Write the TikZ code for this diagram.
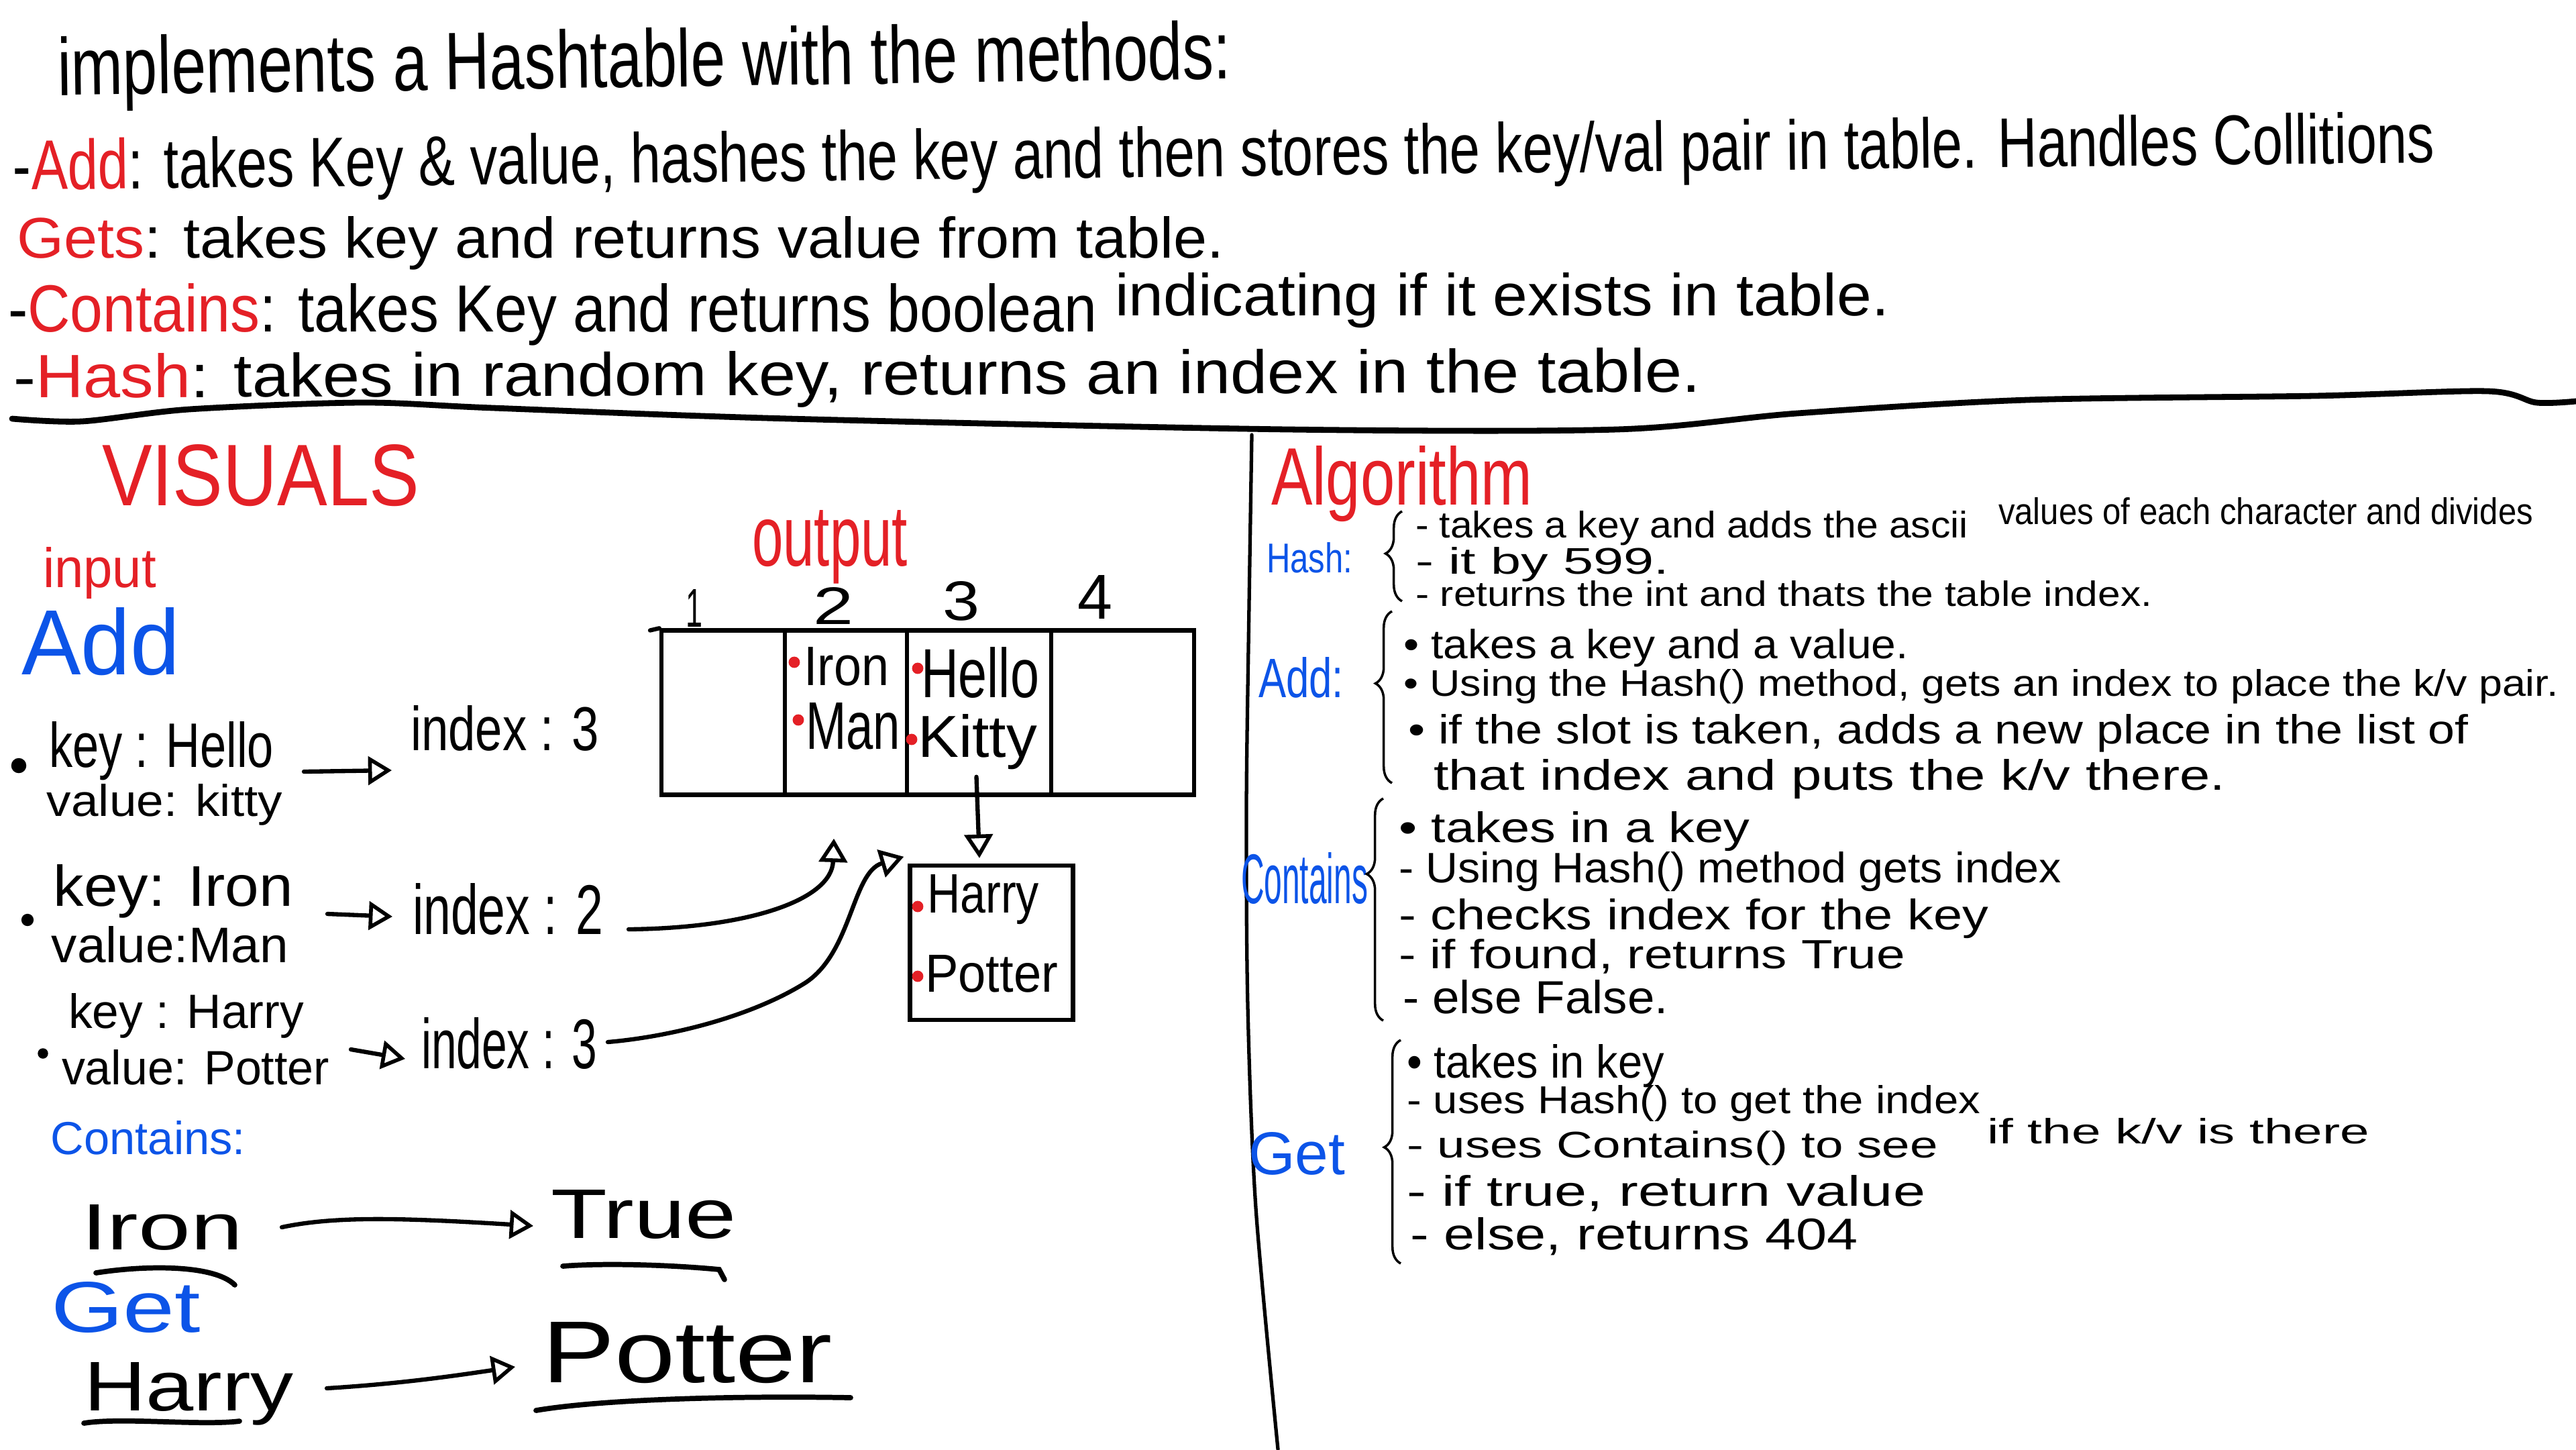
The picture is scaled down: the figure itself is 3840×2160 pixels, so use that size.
\documentclass[tikz,border=0pt]{standalone}
\usepackage{fontspec}
\setmainfont{Liberation Sans}
\usepackage{graphicx}
\usetikzlibrary{arrows.meta,calc,decorations.pathreplacing}
\definecolor{hred}{RGB}{228,32,38}
\definecolor{hblue}{RGB}{12,84,232}
\newlength\pxu
\setlength\pxu{0.01cm}
\newcommand\tx[3]{\resizebox{#1\pxu}{#2\pxu}{#3}}
\begin{document}
\begin{tikzpicture}[x=0.01cm,y=-0.01cm,
  tn/.style={inner sep=0pt,outer sep=0pt,anchor=base west},
  conn/.style={line width=1.8pt,line cap=round,-{Triangle[open,length=10pt,width=12pt,line width=1.6pt]}},
  cellbox/.style={draw,line width=1.8pt,inner sep=0pt,minimum height=2.45cm},
  uline/.style={line width=2.2pt,line cap=round},
  bracestyle/.style={line width=1pt,decorate}]
\useasboundingbox (0,0) rectangle (3840,2160);
\fill[white] (0,0) rectangle (3840,2160);

% ---------------- header ----------------
\node[tn,rotate=0.8] (h0) at (86,142) {\tx{1750}{88}{implements a Hashtable with the methods:}};
\node[tn,rotate=0.65] (h1) at (20,283) {\tx{3610}{76}{-\textcolor{hred}{Add}: takes Key \& value, hashes the key and then stores the key/val pair in table. Handles Collitions}};
\node[tn] (h2) at (25,384) {\tx{1800}{62}{\textcolor{hred}{Gets}: takes key and returns value from table.}};
\node[tn] (h3a) at (12,494) {\tx{1623}{72}{-\textcolor{hred}{Contains}: takes Key and returns boolean}};
\node[tn] (h3b) at (1662,470) {\tx{1154}{64}{indicating if it exists in table.}};
\node[tn,rotate=0.2] (h4) at (20,593) {\tx{2515}{66}{-\textcolor{hred}{Hash}: takes in random key, returns an index in the table.}};

\draw[line width=2.5pt,line cap=round] plot[smooth] coordinates {(18,624) (122,628) (282,610) (539,600) (735,608) (1176,624) (1920,640) (2410,640) (2679,616) (3022,596) (3450,590) (3708,583) (3781,600) (3840,598)};
\draw[line width=1.5pt,line cap=round] plot[smooth] coordinates {(1866,648) (1862,900) (1858,1200) (1860,1500) (1872,1800) (1905,2160)};

% ---------------- visuals ----------------
\node[tn] (vis) at (152,753) {\tx{473}{91}{\color{hred}VISUALS}};
\node[tn] (inp) at (64,875) {\tx{169}{60}{\color{hred}input}};
\node[tn] (addb) at (32,1005) {\tx{236}{100}{\color{hblue}Add}};

\fill (28,1141) circle (3.2pt);
\fill (41,1371) circle (2.6pt);
\fill (64,1570) circle (2.2pt);
\node[tn] (k1) at (73,1143) {\tx{335}{68}{key : Hello}};
\node[tn] (v1) at (70,1216) {\tx{351}{48}{value: kitty}};
\node[tn] (i1) at (612,1118) {\tx{281}{67}{index : 3}};
\node[tn] (k2) at (80,1350) {\tx{357}{62}{key: Iron}};
\node[tn] (v2) at (77,1434) {\tx{353}{54}{value:Man}};
\node[tn] (i2) at (615,1392) {\tx{284}{76}{index : 2}};
\node[tn] (k3) at (102,1532) {\tx{351}{52}{key : Harry}};
\node[tn] (v3) at (92,1616) {\tx{399}{52}{value: Potter}};
\node[tn] (i3) at (628,1592) {\tx{262}{76}{index : 3}};

\draw[conn] ($(k1.base east)+(45,7)$) -- ($(i1.base west)+(-28,30)$);
\draw[conn] ($(k2.base east)+(51,12)$) -- ($(i2.base west)+(-30,-26)$);
\draw[conn] ($(k3.base east)+(70,32)$) -- ($(i3.base west)+(-24,-14)$);

% table
\node[tn] (out) at (1121,843) {\tx{232}{83}{\color{hred}output}};
\node[cellbox,minimum width=1.84cm] (cell1) at (1078,1062) {};
\node[cellbox,minimum width=1.82cm] (cell2) at (1261,1062) {};
\node[cellbox,minimum width=2.15cm] (cell3) at (1459.5,1062) {};
\node[cellbox,minimum width=2.13cm] (cell4) at (1673.5,1062) {};
\draw[line width=1.8pt,line cap=round] (969,939.5) -- (cell1.north west);
\node[tn] (n1) at (1022,934) {\tx{25}{56}{1}};
\node[tn] (n2) at (1212,930) {\tx{60}{55}{2}};
\node[tn] (n3) at (1405,924) {\tx{55}{58}{3}};
\node[tn] (n4) at (1606,922) {\tx{52}{65}{4}};

\node[tn] (tIron) at (1198,1021) {\tx{127}{57}{Iron}};
\node[tn] (tMan) at (1201,1116) {\tx{141}{69}{Man}};
\node[tn] (tHello) at (1373,1039) {\tx{176}{75}{Hello}};
\node[tn] (tKitty) at (1368,1128) {\tx{178}{64}{Kitty}};
\fill[hred] (1184,987) circle (2.4pt);
\fill[hred] (1190,1073) circle (2.4pt);
\fill[hred] (1368,996) circle (2.4pt);
\fill[hred] (1359,1102) circle (2.4pt);

\node[cellbox,minimum width=2.43cm,minimum height=2.30cm] (hp) at (1478,1405) {};
\node[tn] (tHarry) at (1382,1360) {\tx{167}{57}{Harry}};
\node[tn] (tPotter) at (1379,1478) {\tx{198}{55}{Potter}};
\fill[hred] (1368,1351) circle (2.4pt);
\fill[hred] (1368,1455) circle (2.4pt);

\draw[conn] ($(cell3.south)+(-4,-30)$) -- ($(hp.north)+(-18,-8)$);
\draw[conn] ($(i2.base east)+(38,-7)$) .. controls (1120,1383) and (1240,1340) .. ($(cell2.south)+(-18,62)$);
\draw[conn] ($(i3.base east)+(16,-39)$) .. controls (1000,1545) and (1120,1515) .. (1200,1465) .. controls (1270,1420) and (1270,1300) .. ($(hp.north west)+(-6,-10)$);

% contains / get
\node[tn] (cont) at (76,1720) {\tx{290}{50}{\color{hblue}Contains:}};
\node[tn] (cIron) at (121,1862) {\tx{241}{67}{Iron}};
\node[tn] (cTrue) at (821,1845) {\tx{277}{72}{True}};
\node[tn] (getb) at (76,1985) {\tx{223}{75}{\color{hblue}Get}};
\node[tn] (cHarry) at (125,2102) {\tx{313}{72}{Harry}};
\node[tn] (cPotter) at (808,2060) {\tx{433}{90}{Potter}};
\draw[conn] ($(cIron.base east)+(58,-33)$) .. controls (500,1812) and (600,1815) .. ($(cTrue.base west)+(-26,-18)$);
\draw[conn] ($(cHarry.base east)+(49,-33)$) .. controls (600,2062) and (680,2050) .. ($(cPotter.base west)+(-40,-23)$);
\draw[uline] (143,1897) .. controls (220,1885) and (320,1885) .. (350,1915);
\draw[uline] (839,1887) .. controls (900,1882) and (1000,1885) .. (1072,1892) -- (1080,1907);
\draw[uline] (125,2121) .. controls (180,2112) and (300,2125) .. (357,2118);
\draw[uline] (799,2102) .. controls (900,2085) and (1100,2080) .. (1268,2083);

% ---------------- algorithm ----------------
\node[tn] (alg) at (1895,752) {\tx{389}{88}{\raisebox{0pt}[\height][0pt]{\color{hred}Algorithm}}};
\node[tn] (hashr) at (1888,853) {\tx{128}{45}{\color{hblue}Hash:}};
\draw[bracestyle,decoration={brace,amplitude=7pt,aspect=0.53}] (2090,896) -- (2090,762);
\node[tn] (r1a) at (2110,801) {\tx{824}{40}{- takes a key and adds the ascii}};
\node[tn] (r1b) at (2979,781) {\tx{797}{40}{values of each character and divides}};
\node[tn] (r2) at (2110,855) {\tx{378}{40}{- it by 599.}};
\node[tn] (r3) at (2110,903) {\tx{1098}{38}{- returns the int and thats the table index.}};

\node[tn] (addr) at (1876,1039) {\tx{127}{60}{\color{hblue}Add:}};
\draw[bracestyle,decoration={brace,amplitude=7pt,aspect=0.58}] (2075,1167) -- (2075,911);
\node[tn] (r4) at (2092,981) {\tx{753}{44}{• takes a key and a value.}};
\node[tn] (r5) at (2092,1037) {\tx{1722}{40}{• Using the Hash() method, gets an index to place the k/v pair.}};
\node[tn] (r6) at (2099,1108) {\tx{1581}{44}{• if the slot is taken, adds a new place in the list of}};
\node[tn] (r7) at (2137,1177) {\tx{1180}{46}{that index and puts the k/v there.}};

\node[tn] (contr) at (1850,1346) {\tx{189}{76}{\color{hblue}Contains}};
\draw[bracestyle,decoration={brace,amplitude=7pt,aspect=0.66}] (2062,1521) -- (2062,1190);
\node[tn] (r8) at (2085,1255) {\tx{523}{46}{• takes in a key}};
\node[tn] (r9) at (2085,1315) {\tx{988}{46}{- Using Hash() method gets index}};
\node[tn] (r10) at (2085,1385) {\tx{879}{46}{- checks index for the key}};
\node[tn] (r11) at (2085,1443) {\tx{755}{44}{- if found, returns True}};
\node[tn] (r12) at (2091,1510) {\tx{396}{50}{- else False.}};

\node[tn] (getr) at (1861,1750) {\tx{144}{63}{\color{hblue}Get}};
\draw[bracestyle,decoration={brace,amplitude=7pt,aspect=0.52}] (2088,1883) -- (2088,1550);
\node[tn] (r13) at (2097,1606) {\tx{384}{50}{• takes in key}};
\node[tn] (r14) at (2097,1659) {\tx{855}{42}{- uses Hash() to get the index}};
\node[tn] (r15a) at (2097,1725) {\tx{792}{40}{- uses Contains() to see}};
\node[tn] (r15b) at (2962,1704) {\tx{570}{38}{if the k/v is there}};
\node[tn] (r16) at (2097,1797) {\tx{773}{46}{- if true, return value}};
\node[tn] (r17) at (2102,1862) {\tx{668}{48}{- else, returns 404}};
\end{tikzpicture}
\end{document}
